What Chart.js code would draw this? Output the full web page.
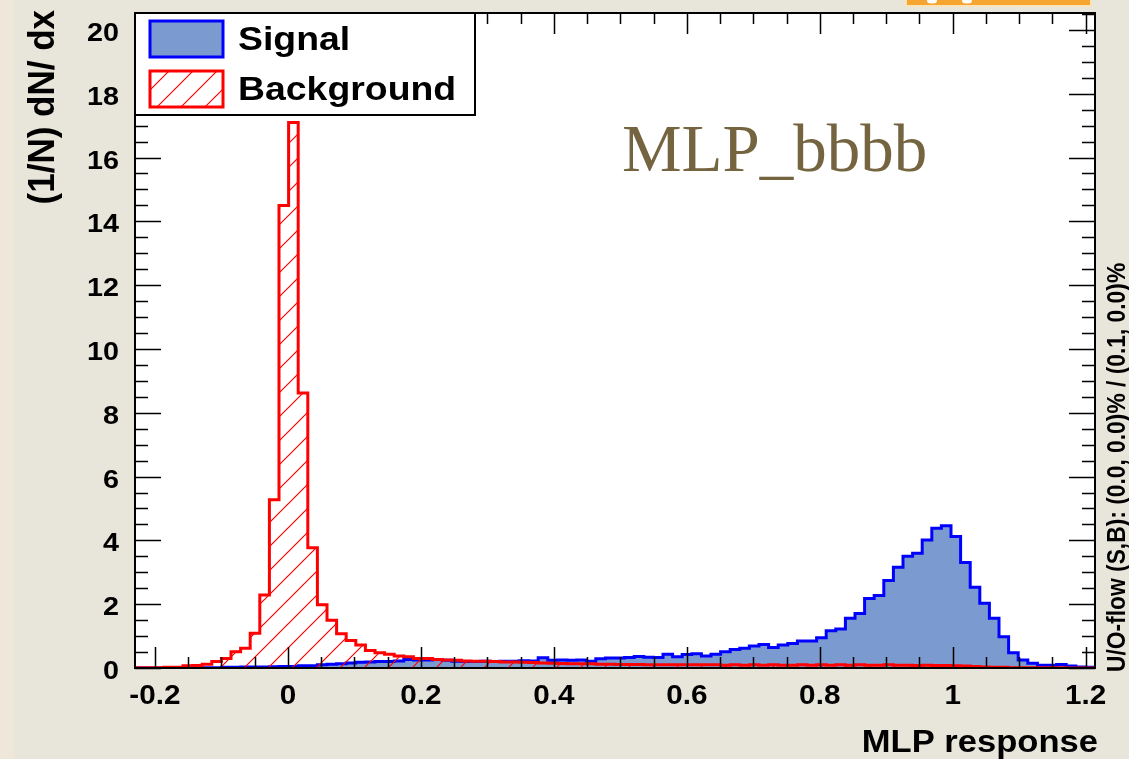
<!DOCTYPE html>
<html>
<head>
<meta charset="utf-8">
<script src="https://cdn.jsdelivr.net/npm/chart.js@4.4.0/dist/chart.umd.min.js"></script>
<style>
  html, body { margin: 0; padding: 0; background: #e8e5da; }
  #wrap { position: relative; width: 1129px; height: 759px; }
</style>
</head>
<body>
<div id="wrap"><canvas id="chart" width="1129" height="759"></canvas></div>
<script>
// histogram binning (100 bins)
const xLow = -0.23;
const xHigh = 1.214;
const binWidth = (xHigh - xLow) / 100;

// (1/N) dN/dx per bin
const signalVals = [
  0, 0, 0, 0, 0, 0, 0.01, 0.01, 0.01, 0.02,
  0.02, 0.03, 0.03, 0.03, 0.04, 0.05, 0.05, 0.07, 0.07, 0.10,
  0.12, 0.13, 0.16, 0.18, 0.19, 0.20, 0.20, 0.22, 0.27, 0.25,
  0.25, 0.27, 0.24, 0.21, 0.20, 0.20, 0.21, 0.20, 0.21, 0.21,
  0.23, 0.22, 0.32, 0.24, 0.25, 0.24, 0.25, 0.21, 0.29, 0.31,
  0.31, 0.33, 0.36, 0.34, 0.33, 0.43, 0.35, 0.42, 0.45, 0.38,
  0.43, 0.51, 0.58, 0.62, 0.69, 0.74, 0.64, 0.72, 0.77, 0.85,
  0.85, 0.95, 1.17, 1.22, 1.56, 1.71, 2.18, 2.27, 2.74, 3.16,
  3.50, 3.60, 4.01, 4.38, 4.46, 4.12, 3.31, 2.53, 2.03, 1.56,
  0.98, 0.48, 0.25, 0.15, 0.09, 0.09, 0.11, 0.06, 0.03, 0.02
];
const backgroundVals = [
  0.01, 0.01, 0.01, 0.02, 0.02, 0.07, 0.08, 0.12, 0.20, 0.30,
  0.51, 0.62, 1.09, 2.29, 5.27, 14.5, 17.1, 8.62, 3.77, 1.98,
  1.50, 1.07, 0.86, 0.72, 0.55, 0.48, 0.43, 0.38, 0.35, 0.30,
  0.30, 0.27, 0.25, 0.24, 0.22, 0.21, 0.21, 0.20, 0.19, 0.19,
  0.18, 0.17, 0.16, 0.15, 0.14, 0.13, 0.13, 0.13, 0.12, 0.12,
  0.11, 0.11, 0.11, 0.10, 0.10, 0.10, 0.10, 0.10, 0.10, 0.10,
  0.10, 0.09, 0.10, 0.09, 0.10, 0.09, 0.10, 0.09, 0.09, 0.10,
  0.09, 0.10, 0.09, 0.10, 0.09, 0.10, 0.09, 0.09, 0.10, 0.09,
  0.09, 0.08, 0.09, 0.08, 0.08, 0.07, 0.06, 0.05, 0.03, 0.02,
  0.02, 0.01, 0.01, 0.01, 0.01, 0.01, 0.01, 0, 0, 0
];

const xTickVals = [-0.2, 0, 0.2, 0.4, 0.6, 0.8, 1, 1.2];
const xTickLabels = ['-0.2', '0', '0.2', '0.4', '0.6', '0.8', '1', '1.2'];
const yTickVals = [0, 2, 4, 6, 8, 10, 12, 14, 16, 18, 20];
const yTickLabels = ['0', '2', '4', '6', '8', '10', '12', '14', '16', '18', '20'];
const yMax = 20.53;

const seriesNames = ['Signal', 'Background'];
const xTitle = 'MLP response';
const yTitle = '(1/N) dN/ dx';
const flowText = 'U/O-flow (S,B): (0.0, 0.0)% / (0.1, 0.0)%';
const methodText = 'MLP_bbbb';

// turn bin values into an outline: both edges of every bin
function toSteps(vals) {
  let pts = [{x: xLow, y: 0}];
  vals.forEach((v, i) => {
    pts.push({x: xLow + i * binWidth, y: v});
    pts.push({x: xLow + (i + 1) * binWidth, y: v});
  });
  pts.push({x: xHigh, y: 0});
  return pts;
}

function hatchPattern() {
  const c = document.createElement('canvas');
  c.width = 24; c.height = 24;
  const g = c.getContext('2d');
  g.strokeStyle = '#ff0000';
  g.lineWidth = 1.2;
  g.beginPath();
  g.moveTo(-2, 26); g.lineTo(26, -2);
  g.moveTo(-14, 14); g.lineTo(14, -14);
  g.moveTo(10, 38); g.lineTo(38, 10);
  g.stroke();
  return g.createPattern(c, 'repeat');
}
const hatch = hatchPattern();

const BOLD = 'bold %spx "Liberation Sans", Arial, sans-serif';
function font(size) { return BOLD.replace('%s', size); }

// ROOT-looking text is a little wider than normal Arial
function wideText(ctx, text, x, y, align, sx) {
  ctx.save();
  ctx.translate(x, y);
  ctx.scale(sx, 1);
  ctx.textAlign = align;
  ctx.fillText(text, 0, 0);
  ctx.restore();
}

const rootStyle = {
  id: 'rootStyle',
  beforeDraw(chart) {
    const ctx = chart.ctx;
    const a = chart.chartArea;
    ctx.save();
    ctx.fillStyle = '#efe8da';
    ctx.fillRect(0, 0, 14, 759);
    // orange tab at the top edge
    ctx.fillStyle = '#fbe3b8';
    ctx.fillRect(905, 0, 187, 7);
    ctx.fillStyle = '#f6a531';
    ctx.fillRect(907, 0, 183, 5);
    ctx.fillStyle = '#ffffff';
    ctx.beginPath();
    ctx.ellipse(932, 1, 5, 2.5, 0, 0, Math.PI * 2);
    ctx.ellipse(967, 1, 5, 2.5, 0, 0, Math.PI * 2);
    ctx.fill();
    ctx.fillStyle = '#ffffff';
    ctx.fillRect(a.left, a.top, a.right - a.left, a.bottom - a.top);
    ctx.restore();
  },
  afterDatasetsDraw(chart) {
    const ctx = chart.ctx;
    const a = chart.chartArea;
    const xs = chart.scales.x;
    const ys = chart.scales.y;
    ctx.save();

    // ticks on all four sides, pointing inwards
    ctx.strokeStyle = '#000';
    ctx.lineWidth = 1.5;
    ctx.beginPath();
    for (let k = 0; k <= 28; k++) {
      const v = -0.2 + k * 0.05;
      const px = Math.round(xs.getPixelForValue(v)) + 0.5;
      const len = (k % 4 === 0) ? 21 : 11;
      ctx.moveTo(px, a.bottom); ctx.lineTo(px, a.bottom - len);
      ctx.moveTo(px, a.top); ctx.lineTo(px, a.top + len);
    }
    for (let k = 0; k <= 41; k++) {
      const v = k * 0.5;
      const py = Math.round(ys.getPixelForValue(v)) + 0.5;
      const len = (k % 4 === 0) ? 26 : 13;
      ctx.moveTo(a.left, py); ctx.lineTo(a.left + len, py);
      ctx.moveTo(a.right, py); ctx.lineTo(a.right - len, py);
    }
    ctx.stroke();

    // frame
    ctx.lineWidth = 2;
    ctx.strokeRect(a.left, a.top, a.right - a.left, a.bottom - a.top);

    // tick labels
    ctx.fillStyle = '#000';
    ctx.textBaseline = 'alphabetic';
    ctx.font = font(27);
    xTickVals.forEach((v, i) => {
      wideText(ctx, xTickLabels[i], xs.getPixelForValue(v), 704, 'center', 1.1);
    });
    ctx.font = font(25);
    yTickVals.forEach((v, i) => {
      wideText(ctx, yTickLabels[i], 119, ys.getPixelForValue(v) + 11, 'right', 1.15);
    });

    // axis titles
    ctx.font = font(32);
    wideText(ctx, xTitle, 1098, 752, 'right', 1.08);

    ctx.save();
    ctx.translate(54, 10);
    ctx.rotate(-Math.PI / 2);
    ctx.scale(1, 1.05);
    ctx.font = font(35);
    ctx.textAlign = 'right';
    ctx.fillText(yTitle, 0, 0);
    ctx.restore();

    ctx.save();
    ctx.translate(1125, 672);
    ctx.rotate(-Math.PI / 2);
    ctx.scale(1, 1.1);
    ctx.font = font(22.8);
    ctx.textAlign = 'left';
    ctx.fillText(flowText, 0, 0);
    ctx.restore();

    // legend box
    ctx.fillStyle = '#ffffff';
    ctx.fillRect(a.left, a.top, 340, 102);
    ctx.lineWidth = 2;
    ctx.strokeStyle = '#000';
    ctx.strokeRect(a.left, a.top, 340, 102);

    const sw = [[chart.data.datasets[1], 21], [chart.data.datasets[0], 71]];
    sw.forEach(([ds, top]) => {
      ctx.fillStyle = ds.backgroundColor;
      ctx.fillRect(150, top, 73, 36);
      ctx.lineWidth = 3;
      ctx.strokeStyle = ds.borderColor;
      ctx.strokeRect(150, top, 73, 36);
    });
    ctx.fillStyle = '#000';
    ctx.font = font(34);
    wideText(ctx, seriesNames[0], 238, 50, 'left', 1.1);
    wideText(ctx, seriesNames[1], 238, 100, 'left', 1.1);

    // method label
    ctx.fillStyle = '#756440';
    ctx.font = '67px "Liberation Serif", "Times New Roman", serif';
    ctx.textAlign = 'left';
    ctx.fillText(methodText, 622, 171);

    ctx.restore();
  }
};

new Chart(document.getElementById('chart'), {
  type: 'line',
  data: {
    datasets: [
      {
        label: seriesNames[1],
        data: toSteps(backgroundVals),
        borderColor: '#ff0000',
        backgroundColor: hatch,
        borderWidth: 3,
        fill: 'origin',
        pointRadius: 0,
        tension: 0,
        borderJoinStyle: 'miter',
        order: 1
      },
      {
        label: seriesNames[0],
        data: toSteps(signalVals),
        borderColor: '#0000ff',
        backgroundColor: '#7b9bd0',
        borderWidth: 3,
        fill: 'origin',
        pointRadius: 0,
        tension: 0,
        borderJoinStyle: 'miter',
        order: 2
      }
    ]
  },
  options: {
    responsive: false,
    animation: false,
    layout: { padding: { top: 13, right: 34, left: 0, bottom: 0 } },
    plugins: { legend: { display: false }, tooltip: { enabled: false } },
    scales: {
      x: {
        type: 'linear',
        min: xLow,
        max: xHigh,
        grid: { display: false },
        border: { display: false },
        ticks: { display: false },
        afterFit: s => { s.height = 91; }
      },
      y: {
        type: 'linear',
        min: 0,
        max: yMax,
        grid: { display: false },
        border: { display: false },
        ticks: { display: false },
        afterFit: s => { s.width = 135; }
      }
    }
  },
  plugins: [rootStyle]
});
</script>
</body>
</html>
